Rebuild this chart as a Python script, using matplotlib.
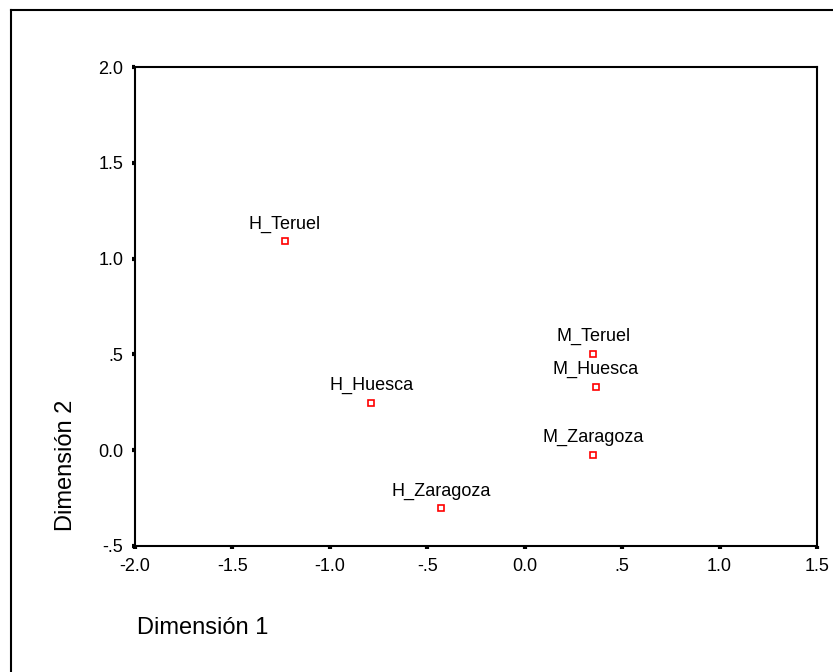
import matplotlib
matplotlib.use("Agg")
import matplotlib.pyplot as plt
from matplotlib.lines import Line2D

plt.rcParams['font.family'] = ['Liberation Sans', 'DejaVu Sans']

# puntos del mapa (dimension 1, dimension 2)
labels = ["H_Teruel", "H_Huesca", "H_Zaragoza", "M_Teruel", "M_Huesca", "M_Zaragoza"]
dim1 = [-1.23, -0.787, -0.428, 0.353, 0.364, 0.353]
dim2 = [1.09, 0.248, -0.301, 0.504, 0.332, -0.024]

xticks = [-2.0, -1.5, -1.0, -0.5, 0.0, 0.5, 1.0, 1.5]
xticklabels = ["-2.0", "-1.5", "-1.0", "-.5", "0.0", ".5", "1.0", "1.5"]
yticks = [-0.5, 0.0, 0.5, 1.0, 1.5, 2.0]
yticklabels = ["-.5", "0.0", ".5", "1.0", "1.5", "2.0"]

W, H = 833, 672
fig = plt.figure(figsize=(W / 100, H / 100), dpi=100)
ax = fig.add_axes([135 / W, 1 - 546 / H, (817 - 135) / W, (546 - 67) / H])

ax.plot(dim1, dim2, linestyle="none", marker="s", markersize=5,
        markerfacecolor="white", markeredgecolor="red", markeredgewidth=1.2)
for lab, x, y in zip(labels, dim1, dim2):
    ax.annotate(lab, (x, y), xytext=(0, 6), textcoords="offset points",
                ha="center", va="bottom", fontsize=13)

ax.set_xlim(-2.0, 1.5)
ax.set_ylim(-0.5, 2.0)
ax.set_xticks(xticks)
ax.set_xticklabels(xticklabels)
ax.set_yticks(yticks)
ax.set_yticklabels(yticklabels)
ax.tick_params(direction="out", length=2.5, width=3, labelsize=13, pad=6)
for s in ax.spines.values():
    s.set_linewidth(1.5)

fig.text(66 / W, 1 - 465 / H, "Dimensión 2", rotation=90, ha="center", va="center", fontsize=17)
fig.text(137 / W, 1 - 628 / H, "Dimensión 1", ha="left", va="center", fontsize=17)

# marco exterior (solo arriba e izquierda)
fig.add_artist(Line2D([11 / W, 1], [1 - 10 / H, 1 - 10 / H], transform=fig.transFigure, color="black", lw=1.5))
fig.add_artist(Line2D([11 / W, 11 / W], [0, 1 - 10 / H], transform=fig.transFigure, color="black", lw=1.5))

fig.savefig("out.png", dpi=100, facecolor="white")
